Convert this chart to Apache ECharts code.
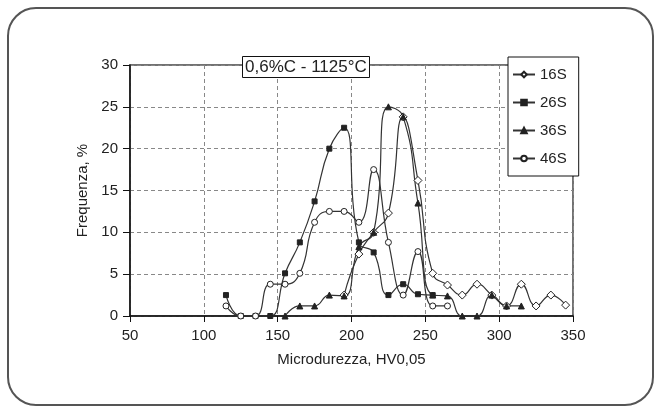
<!DOCTYPE html>
<html>
<head>
<meta charset="utf-8">
<script src="https://cdn.jsdelivr.net/npm/echarts@6/dist/echarts.min.js"></script>
<style>
  html, body { margin: 0; padding: 0; background: #fff; }
  #chart { width: 662px; height: 414px; }
</style>
</head>
<body>
<div id="chart"></div>
<script>
// hardness (HV0,05) class centres
var hv = [115, 125, 135, 145, 155, 165, 175, 185, 195, 205, 215, 225,
          235, 245, 255, 265, 275, 285, 295, 305, 315, 325, 335, 345]
// frequency %, null = no point
var s16 = [null, null, null, null, null, null, null, null, 2.5, 7.4, 10, 12.3,
           23.8, 16.2, 5.1, 3.7, 2.5, 3.8, 2.5, 1.2, 3.8, 1.2, 2.5, 1.3]
var s26 = [2.5, 0, 0, 0, 5.1, 8.8, 13.7, 20, 22.5, 8.8, 7.6, 2.5,
           3.8, 2.6, 2.5, null, null, null, null, null, null, null, null, null]
var s36 = [null, null, null, null, 0, 1.2, 1.2, 2.5, 2.4, 8.3, 10, 25,
           23.8, 13.5, 2.5, 2.4, 0, 0, 2.5, 1.2, 1.2, null, null, null]
var s46 = [1.2, 0, 0, 3.8, 3.8, 5.1, 11.2, 12.5, 12.5, 11.2, 17.5, 8.8,
           2.5, 7.7, 1.2, 1.2, null, null, null, null, null, null, null, null]
var xTicks = [50, 100, 150, 200, 250, 300, 350]
var yTicks = [0, 5, 10, 15, 20, 25, 30]

function pairs(vals) {
  var out = []
  for (let i = 0; i < hv.length; i++) {
    if (vals[i] !== null) out.push([hv[i], vals[i]])
  }
  return out
}

var font = 'Liberation Sans, Arial, sans-serif'
var ink = '#222'

function serie(name, vals, symbol, filled, size) {
  return {
    name: name,
    type: 'line',
    data: pairs(vals),
    smooth: 0.5,
    symbol: symbol,
    symbolSize: size,
    lineStyle: { color: '#333', width: 1.2 },
    itemStyle: { color: filled ? ink : '#fff', borderColor: ink, borderWidth: 1 }
  }
}

var myChart = echarts.init(document.getElementById('chart'))
var option = {
  animation: false,
  backgroundColor: '#fff',
  textStyle: { fontFamily: font },
  graphic: [{
    type: 'rect',
    shape: { x: 8, y: 8, width: 645, height: 397, r: 28 },
    style: { fill: null, stroke: '#555', lineWidth: 2 },
    z: 0
  }],
  title: {
    text: '0,6%C - 1125°C',
    left: 242,
    top: 56,
    padding: [3, 3, 2, 3],
    borderColor: '#111',
    borderWidth: 1,
    backgroundColor: '#fff',
    textStyle: { fontFamily: font, fontSize: 17, fontWeight: 'normal', color: ink }
  },
  legend: {
    orient: 'vertical',
    left: 508,
    top: 57,
    padding: [10, 12, 10, 4],
    itemGap: 13,
    itemWidth: 22,
    itemHeight: 7,
    borderColor: '#111',
    borderWidth: 1,
    backgroundColor: '#fff',
    textStyle: { fontFamily: font, fontSize: 15, color: ink },
    data: ['16S', '26S', '36S', '46S']
  },
  grid: {
    left: 130, top: 65, right: 89, bottom: 98,
    show: true, borderColor: '#444', borderWidth: 1.5
  },
  xAxis: {
    type: 'value',
    min: xTicks[0], max: xTicks[xTicks.length - 1], interval: 50,
    name: 'Microdurezza, HV0,05',
    nameLocation: 'middle',
    nameGap: 36,
    nameTextStyle: { fontFamily: font, fontSize: 15, color: ink },
    axisLine: { lineStyle: { color: '#111', width: 1.5 } },
    axisTick: { show: true, length: 6, lineStyle: { color: '#111' } },
    axisLabel: { fontFamily: font, fontSize: 15, color: ink, margin: 12 },
    splitLine: { show: true, lineStyle: { color: '#888', type: [4, 3], width: 1 } }
  },
  yAxis: {
    type: 'value',
    min: yTicks[0], max: yTicks[yTicks.length - 1], interval: 5,
    name: 'Frequenza, %',
    nameLocation: 'middle',
    nameGap: 38,
    nameTextStyle: { fontFamily: font, fontSize: 15, color: ink },
    axisLine: { show: true, lineStyle: { color: '#111', width: 1.5 } },
    axisTick: { show: true, length: 7, lineStyle: { color: '#111' } },
    axisLabel: { fontFamily: font, fontSize: 15, color: ink, margin: 12 },
    splitLine: { show: true, lineStyle: { color: '#888', type: [4, 3], width: 1 } }
  },
  series: [
    serie('16S', s16, 'diamond', false, 8),
    serie('26S', s26, 'rect', true, 5),
    serie('36S', s36, 'triangle', true, 6),
    serie('46S', s46, 'circle', false, 6)
  ]
}
myChart.setOption(option, true)
</script>
</body>
</html>
